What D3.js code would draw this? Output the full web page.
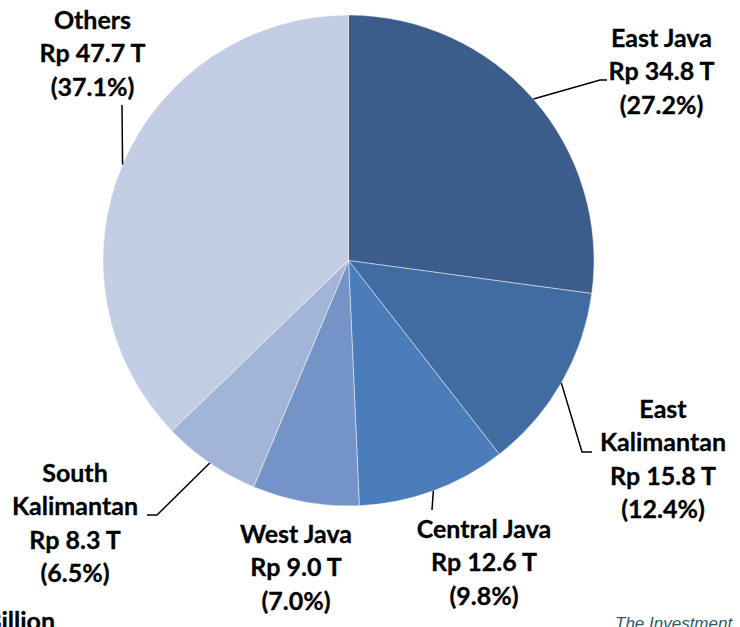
<!DOCTYPE html>
<html><head><meta charset="utf-8">
<script src="https://cdn.jsdelivr.net/npm/d3@7"></script>
<style>body{margin:0;background:#fff}svg{display:block}</style>
</head><body>
<script>
const categories = ["East Java","East Kalimantan","Central Java","West Java","South Kalimantan","Others"];
const values = [34.8, 15.8, 12.6, 9.0, 8.3, 47.7];
const valueLabels = ["Rp 34.8 T","Rp 15.8 T","Rp 12.6 T","Rp 9.0 T","Rp 8.3 T","Rp 47.7 T"];
const pctLabels = ["(27.2%)","(12.4%)","(9.8%)","(7.0%)","(6.5%)","(37.1%)"];
const nameLines = [["East Java"],["East","Kalimantan"],["Central Java"],["West Java"],["South","Kalimantan"],["Others"]];
const colors = ["#3a5d8b","#416ca1","#4a7dba","#7493c6","#a3b5d6","#c3cde3"];

const W = 740, H = 627;
const svg = d3.select("body").append("svg").attr("width", W).attr("height", H);
const cx = 348.5, cy = 260.5, R = 245.5;

const pie = d3.pie().sort(null).value(d => d)(values);
const arc = d3.arc().innerRadius(0).outerRadius(R);
const g = svg.append("g").attr("transform", `translate(${cx},${cy})`);
g.selectAll("path").data(pie).join("path")
  .attr("d", arc)
  .attr("fill", (d,i) => colors[i])
  .attr("stroke", "rgba(255,255,255,0.45)")
  .attr("stroke-width", 1);

// label layout (positions only)
const layout = [
  {x:661.5, base:47, leader:[[600,80],[607,80]]},
  {x:663, base:418, leader:[[582,452],[592,452]]},
  {x:484, base:538, leader:[[432,510]]},
  {x:296, base:543, leader:null},
  {x:75, base:482, leader:[[157,515],[147,515]]},
  {x:92.5, base:29, leader:[[122,105]]}
];
const lh = 33.3;
const font = "Lato, 'Open Sans', sans-serif";
pie.forEach((d,i) => {
  const L = layout[i];
  const lines = nameLines[i].concat([valueLabels[i], pctLabels[i]]);
  const t = svg.append("text").attr("text-anchor","middle")
    .attr("font-family", font).attr("font-weight","bold").attr("font-size", 25)
    .attr("fill","#000").attr("stroke","#000").attr("stroke-width",0.3);
  lines.forEach((s,k) => t.append("tspan").attr("x", L.x).attr("y", L.base + k*lh).text(s));
  if (L.leader) {
    const a = (d.startAngle + d.endAngle)/2;
    const p0 = [cx + R*Math.sin(a), cy - R*Math.cos(a)];
    const pts = [p0].concat(L.leader);
    svg.append("path").attr("d", d3.line()(pts)).attr("fill","none")
      .attr("stroke","#000").attr("stroke-width",1.5);
  }
});

svg.append("text").attr("x",55).attr("y",630).attr("text-anchor","end")
  .attr("font-family", font).attr("font-weight","bold").attr("font-size",25)
  .attr("stroke","#000").attr("stroke-width",0.3).text("Billion");
svg.append("text").attr("x",615).attr("y",629)
  .attr("font-family","'Liberation Sans', Arial, sans-serif").attr("font-style","italic")
  .attr("font-size",17).attr("fill","#2b5c6e").text("The Investment");
</script>
</body></html>
